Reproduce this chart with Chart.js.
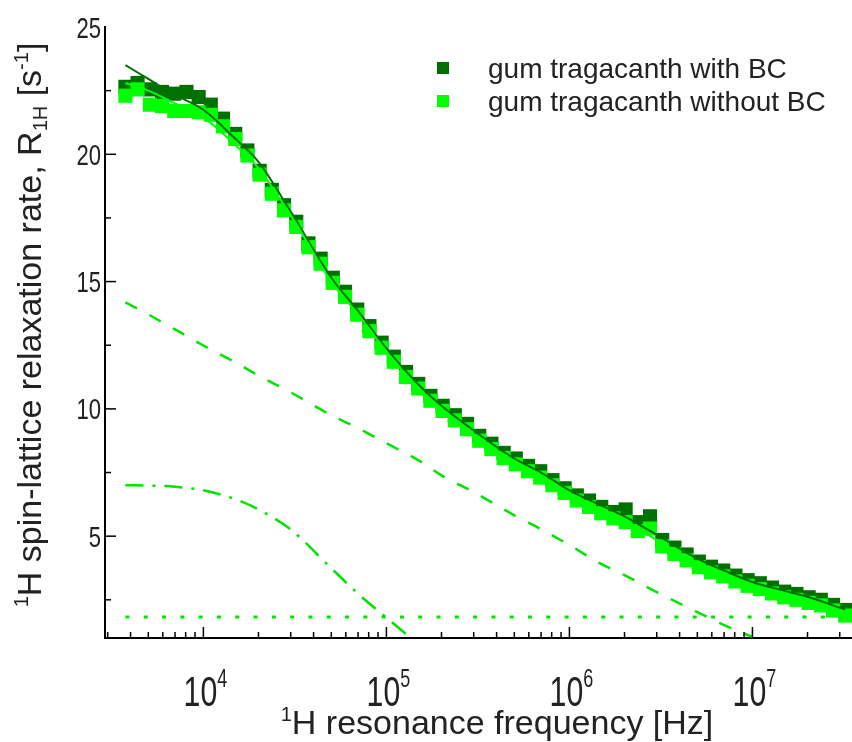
<!DOCTYPE html>
<html>
<head>
<meta charset="utf-8">
<script src="https://cdn.jsdelivr.net/npm/chart.js@4.4.0/dist/chart.umd.min.js"></script>
<style>
  html, body { margin: 0; padding: 0; background: #fff; }
  #wrap { width: 852px; height: 742px; }
</style>
</head>
<body>
<div id="wrap"><canvas id="chart" width="852" height="742"></canvas></div>
<script>
// measured frequencies (kHz) and relaxation rates (s^-1)
const freqKHz = [3.75, 4.37, 5.10, 5.94, 6.93, 8.08, 9.42, 10.98, 12.80, 14.93,
  17.40, 20.29, 23.66, 27.58, 32.16, 37.49, 43.71, 50.96, 59.42, 69.27,
  80.77, 94.17, 109.8, 128.0, 149.2, 174.0, 202.9, 236.5, 275.8, 321.5,
  374.8, 437.0, 509.5, 594.0, 692.6, 807.5, 941.5, 1097.6, 1279.7, 1492.1,
  1739.6, 2028.2, 2364.7, 2756.9, 3214.3, 3747.6, 4369.3, 5094.2, 5939.3, 6924.6,
  8073.3, 9412.7, 10974, 12795, 14918, 17392, 20278, 23642, 27564, 32137]

const withBC = [22.65, 22.8, 22.55, 22.45, 22.38, 22.45, 22.25, 21.95, 21.4, 20.8,
  20.15, 19.35, 18.6, 18.0, 17.35, 16.5, 15.9, 15.15, 14.6, 13.9,
  13.25, 12.6, 12.05, 11.45, 10.98, 10.51, 10.12, 9.75, 9.41, 8.94,
  8.63, 8.27, 8.05, 7.76, 7.55, 7.2, 6.88, 6.6, 6.4, 6.15,
  5.95, 6.05, 5.55, 5.78, 4.85, 4.55, 4.28, 4.0, 3.8, 3.65,
  3.45, 3.27, 3.15, 2.98, 2.82, 2.73, 2.6, 2.5, 2.3, 2.1]

const withoutBC = [22.3, 22.55, 21.95, 21.9, 21.7, 21.7, 21.65, 21.55, 21.1, 20.6,
  19.95, 19.2, 18.45, 17.8, 17.15, 16.35, 15.7, 14.95, 14.4, 13.7,
  13.05, 12.4, 11.85, 11.25, 10.8, 10.32, 9.92, 9.55, 9.2, 8.75,
  8.42, 8.07, 7.82, 7.55, 7.3, 7.0, 6.7, 6.4, 6.15, 5.9,
  5.7, 5.55, 5.2, 5.3, 4.6, 4.3, 4.05, 3.78, 3.58, 3.42,
  3.22, 3.05, 2.92, 2.75, 2.6, 2.5, 2.38, 2.28, 2.08, 1.88]

// fitted curves, read at these frequencies (kHz)
const fitFreqKHz = [3.75, 5, 7, 10, 15, 20, 30, 50, 70, 100,
  150, 200, 300, 500, 700, 1000, 1500, 2000, 3000, 5000,
  7000, 10000, 15000, 20000, 32000]
const fitWithBC = [23.5, 22.96, 22.33, 21.75, 20.6, 19.7, 17.75, 15.15, 13.85, 12.38,
  10.95, 10.12, 9.15, 8.05, 7.5, 6.8, 6.2, 5.78, 5.05, 4.12,
  3.65, 3.2, 2.85, 2.62, 2.12]
const fitWithoutBC = [22.8, 22.5, 22.0, 21.45, 20.35, 19.45, 17.6, 15.0, 13.7, 12.25,
  10.8, 9.97, 8.98, 7.88, 7.32, 6.62, 6.0, 5.58, 4.85, 3.92,
  3.45, 3.0, 2.65, 2.42, 1.92]
const dashedPart = [14.18, 13.71, 13.12, 12.49, 11.82, 11.31, 10.65, 9.75, 9.24, 8.65,
  7.98, 7.39, 6.73, 5.82, 5.27, 4.65, 3.90, 3.47, 2.80, 2.02,
  1.51, 1.04]
const dashDotPart = [7.0, 6.99, 6.94, 6.8, 6.45, 6.05, 5.26, 3.74, 2.74, 1.8, 0.75]
const dottedPart = [1.82, 1.82]
const dottedFreqKHz = [3.75, 32137]

const xTickExps = [4, 5, 6, 7]
const yTickLabels = [5, 10, 15, 20, 25]

const DARK = '#007000'
const BRIGHT = '#00ff00'
const PART = '#00e400'
const INK = '#222'
const FONT = '"Liberation Sans", Arial, sans-serif'

const pts = (fx, vals) => vals.map((v, i) => ({x: fx[i] * 1000, y: v}))

function drawRuns(ctx, runs, x, y, align, sx) {
    let total = 0
    runs.forEach(r => {
        ctx.font = `${r.size}px ${FONT}`
        r.w = ctx.measureText(r.t).width * sx
        total += r.w
    })
    let cx = align === 'center' ? x - total / 2 : align === 'right' ? x - total : x
    runs.forEach(r => {
        ctx.save()
        ctx.font = `${r.size}px ${FONT}`
        ctx.translate(cx, y + (r.dy || 0))
        ctx.scale(sx, 1)
        ctx.fillText(r.t, 0, 0)
        ctx.restore()
        cx += r.w
    })
}

const axisInk = {
    id: 'axisInk',
    afterDraw(chart) {
        const {ctx, chartArea: a, scales: {x, y}} = chart
        ctx.save()
        ctx.strokeStyle = '#000'
        ctx.lineWidth = 1.5

        // x ticks, pointing into the plot
        for (let e = 3; e <= 7; e++) {
            for (let m = 1; m <= 9; m++) {
                const v = m * Math.pow(10, e)
                const px = x.getPixelForValue(v)
                if (px < a.left + 1 || px > a.right) continue
                ctx.beginPath()
                ctx.moveTo(px, a.bottom)
                ctx.lineTo(px, a.bottom - (m === 1 ? 11 : 6))
                ctx.stroke()
            }
        }
        // y ticks, pointing into the plot
        for (let v = 2.5; v < 25; v += 2.5) {
            const py = y.getPixelForValue(v)
            ctx.beginPath()
            ctx.moveTo(a.left, py)
            ctx.lineTo(a.left + (v % 5 === 0 ? 11 : 6), py)
            ctx.stroke()
        }

        ctx.fillStyle = INK
        ctx.textBaseline = 'alphabetic'
        yTickLabels.forEach(v => {
            drawRuns(ctx, [{t: String(v), size: 29}], 101, y.getPixelForValue(v) + 10.5, 'right', 0.76)
        })
        xTickExps.forEach(e => {
            drawRuns(ctx, [{t: '10', size: 42}, {t: String(e), size: 25, dy: -19}],
                x.getPixelForValue(Math.pow(10, e)) + 2, 706, 'center', 0.72)
        })

        // axis titles
        drawRuns(ctx, [{t: '1', size: 20, dy: -13}, {t: 'H resonance frequency [Hz]', size: 34}],
            497, 734, 'center', 1)
        ctx.save()
        ctx.translate(0, 325)
        ctx.rotate(-Math.PI / 2)
        drawRuns(ctx, [
            {t: '1', size: 20, dy: -13},
            {t: 'H spin-lattice relaxation rate, R', size: 34},
            {t: '1H', size: 20, dy: 6},
            {t: ' [s', size: 34},
            {t: '-1', size: 20, dy: -13},
            {t: ']', size: 34}
        ], 0, 41, 'center', 1)
        ctx.restore()

        // legend
        const items = [['gum tragacanth with BC', DARK, 68], ['gum tragacanth without BC', BRIGHT, 101]]
        items.forEach(([label, color, cy]) => {
            ctx.fillStyle = color
            ctx.fillRect(437, cy - 6, 12, 12)
            ctx.fillStyle = INK
            drawRuns(ctx, [{t: label, size: 28}], 488, cy + 10, 'left', 1)
        })
        ctx.restore()
    }
}

new Chart(document.getElementById('chart'), {
    type: 'scatter',
    data: {
        datasets: [
            {
                label: 'gum tragacanth with BC',
                data: pts(freqKHz, withBC),
                pointStyle: 'rect',
                pointRadius: 10,
                backgroundColor: DARK,
                borderWidth: 0,
                order: 6
            },
            {
                label: 'gum tragacanth without BC',
                data: pts(freqKHz, withoutBC),
                pointStyle: 'rect',
                pointRadius: 10,
                backgroundColor: BRIGHT,
                borderWidth: 0,
                order: 5
            },
            {
                data: pts(fitFreqKHz, fitWithBC),
                showLine: true, pointRadius: 0,
                borderColor: DARK, borderWidth: 2, cubicInterpolationMode: 'monotone',
                order: 2
            },
            {
                data: pts(fitFreqKHz, fitWithoutBC),
                showLine: true, pointRadius: 0,
                borderColor: BRIGHT, borderWidth: 2, cubicInterpolationMode: 'monotone',
                order: 1
            },
            {
                data: pts(fitFreqKHz, dashedPart),
                showLine: true, pointRadius: 0,
                borderColor: PART, borderWidth: 2.5, borderDash: [13, 14], cubicInterpolationMode: 'monotone',
                order: 3
            },
            {
                data: pts(fitFreqKHz, dashDotPart),
                showLine: true, pointRadius: 0,
                borderColor: PART, borderWidth: 2.5, borderDash: [18, 9, 3, 9], cubicInterpolationMode: 'monotone',
                order: 3
            },
            {
                data: pts(dottedFreqKHz, dottedPart),
                showLine: true, pointRadius: 0,
                borderColor: PART, borderWidth: 3, borderDash: [4, 14.3],
                order: 3
            }
        ]
    },
    options: {
        responsive: false,
        animation: false,
        devicePixelRatio: 1,
        layout: {autoPadding: false, padding: {top: 27, right: 0, left: 0, bottom: 0}},
        plugins: {
            legend: {display: false},
            tooltip: {enabled: false}
        },
        scales: {
            x: {
                type: 'logarithmic',
                min: 2900,
                max: 35000000,
                ticks: {display: false},
                grid: {display: false},
                border: {display: true, color: '#000', width: 2},
                afterFit: (scale) => { scale.height = 104 }
            },
            y: {
                type: 'linear',
                min: 1,
                max: 25,
                ticks: {display: false},
                grid: {display: false},
                border: {display: true, color: '#000', width: 2},
                afterFit: (scale) => { scale.width = 105 }
            }
        }
    },
    plugins: [axisInk]
})
</script>
</body>
</html>
